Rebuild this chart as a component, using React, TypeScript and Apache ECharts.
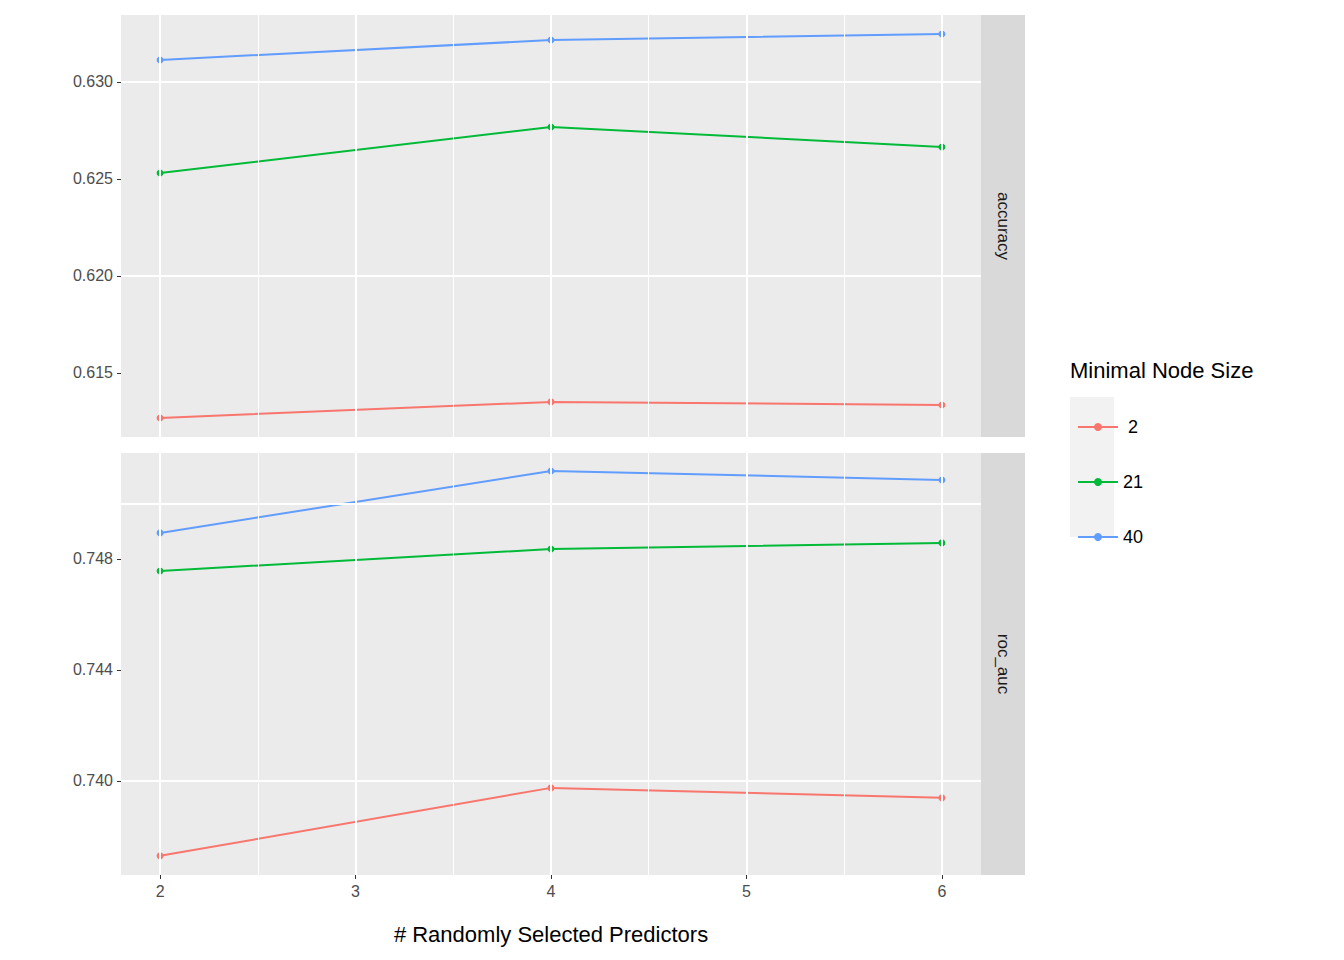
import { useEffect, useRef } from 'react';
import * as echarts from 'echarts';

const predictors = [2, 4, 6];
const nodeSizes = [' 2', '21', '40'];
const colors = ['#F8766D', '#00BA38', '#619CFF'];

const accuracy = [
  [0.61268, 0.61351, 0.61335],
  [0.62531, 0.62768, 0.62665],
  [0.63113, 0.63216, 0.63247],
];
const rocAuc = [
  [0.7373, 0.73975, 0.73939],
  [0.74757, 0.74836, 0.74858],
  [0.74894, 0.75117, 0.75085],
];

const accMajor = [0.615, 0.62, 0.625, 0.63];
const accMinor = [0.6125, 0.6175, 0.6225, 0.6275, 0.6325];
const rocMajor = [0.74, 0.744, 0.748];
const rocMinor = [0.738, 0.742, 0.746, 0.75];
const xMajor = [2, 3, 4, 5, 6];
const xMinor = [2.5, 3.5, 4.5, 5.5];

const FONT = 'Liberation Sans, Arial';

export default function App() {
  const ref = useRef<HTMLDivElement>(null);

  useEffect(() => {
    if (!ref.current) return;
    const chart = echarts.init(ref.current, null, { renderer: 'svg' });

    const lineSeries = (gi: number, items: object[], width: number) => ({
      type: 'line',
      xAxisIndex: gi,
      yAxisIndex: gi,
      data: [],
      silent: true,
      z: 1,
      markLine: {
        silent: true,
        symbol: 'none',
        animation: false,
        label: { show: false },
        lineStyle: { color: '#ffffff', width, type: 'solid', opacity: 1 },
        data: items,
      },
    });

    const gridLines = (gi: number, yMaj: number[], yMin: number[]) => [
      lineSeries(gi, yMin.map((v) => ({ yAxis: v })), 1),
      lineSeries(gi, xMinor.map((v) => ({ xAxis: v })), 1),
      lineSeries(gi, yMaj.map((v) => ({ yAxis: v })), 2),
      lineSeries(gi, xMajor.map((v) => ({ xAxis: v })), 2),
    ];

    const dataSeries = (gi: number, rows: number[][]) =>
      rows.map((r, i) => ({
        type: 'line',
        name: nodeSizes[i],
        xAxisIndex: gi,
        yAxisIndex: gi,
        data: r.map((v, j) => [predictors[j], v]),
        color: colors[i],
        symbol: 'circle',
        symbolSize: 7,
        lineStyle: { width: 2 },
        z: 3,
      }));

    const yAxis = (gi: number, min: number, max: number, maj: number[]) => ({
      type: 'value',
      gridIndex: gi,
      min,
      max,
      splitLine: { show: false },
      axisLine: { show: false },
      axisTick: { show: true, length: 4, lineStyle: { color: '#333' }, customValues: maj },
      axisLabel: {
        customValues: maj,
        formatter: (v: number) => v.toFixed(3),
        color: '#4d4d4d',
        fontSize: 16,
        fontFamily: FONT,
        margin: 8,
      },
    });

    const xAxis = (gi: number, showLabels: boolean) => ({
      type: 'value',
      gridIndex: gi,
      min: 1.8,
      max: 6.2,
      splitLine: { show: false },
      axisLine: { show: false },
      axisTick: { show: showLabels, length: 4, lineStyle: { color: '#333' }, customValues: xMajor },
      axisLabel: {
        show: showLabels,
        customValues: xMajor,
        color: '#4d4d4d',
        fontSize: 16,
        fontFamily: FONT,
        margin: 8,
      },
      name: showLabels ? '# Randomly Selected Predictors' : '',
      nameLocation: 'middle',
      nameGap: 48,
      nameTextStyle: { color: '#000', fontSize: 22, fontFamily: FONT },
    });

    const strip = (y: number, label: string) => [
      { type: 'rect', shape: { x: 981, y, width: 44, height: 422 }, style: { fill: '#d9d9d9' } },
      {
        type: 'text',
        x: 1003,
        y: y + 211,
        rotation: -Math.PI / 2,
        style: {
          text: label,
          fill: '#1a1a1a',
          fontSize: 17,
          fontFamily: FONT,
          align: 'center',
          verticalAlign: 'middle',
        },
      },
    ];

    chart.setOption({
      animation: false,
      grid: [
        { left: 121, top: 15, width: 860, height: 422, show: true, backgroundColor: '#ebebeb', borderWidth: 0 },
        { left: 121, top: 453, width: 860, height: 422, show: true, backgroundColor: '#ebebeb', borderWidth: 0 },
      ],
      xAxis: [xAxis(0, false), xAxis(1, true)],
      yAxis: [yAxis(0, 0.6117, 0.63345, accMajor), yAxis(1, 0.73661, 0.75182, rocMajor)],
      legend: {
        data: nodeSizes,
        orient: 'vertical',
        left: 1072,
        top: 413,
        itemWidth: 40,
        itemHeight: 10,
        itemGap: 37,
        textStyle: { color: '#000', fontSize: 18, fontFamily: FONT },
      },
      graphic: [
        ...strip(15, 'accuracy'),
        ...strip(453, 'roc_auc'),
        { type: 'rect', z: -1, shape: { x: 1070, y: 397, width: 44, height: 140 }, style: { fill: '#f2f2f2' } },
        {
          type: 'text',
          x: 1070,
          y: 370,
          style: {
            text: 'Minimal Node Size',
            fill: '#000',
            fontSize: 22,
            fontFamily: FONT,
            verticalAlign: 'middle',
          },
        },
      ],
      series: [
        ...gridLines(0, accMajor, accMinor),
        ...gridLines(1, rocMajor, rocMinor),
        ...dataSeries(0, accuracy),
        ...dataSeries(1, rocAuc),
      ],
    });

    return () => chart.dispose();
  }, []);

  return <div ref={ref} style={{ width: 1344, height: 960, margin: -8 }} />;
}
